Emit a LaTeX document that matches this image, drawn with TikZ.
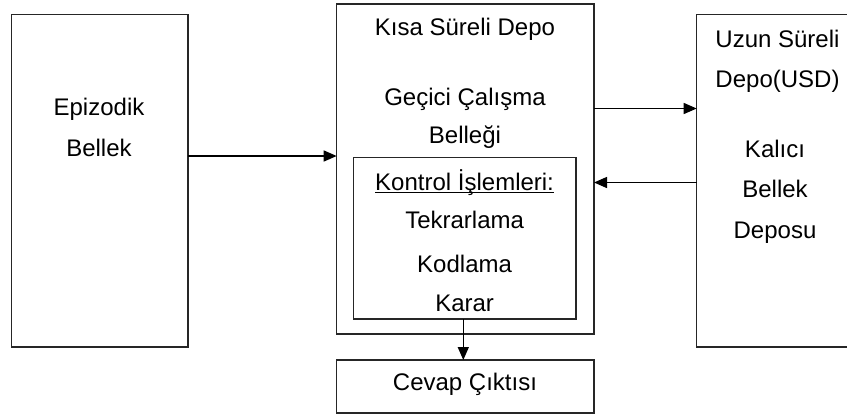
\documentclass[tikz,border=0pt]{standalone}
\usepackage{fontspec}
\setmainfont{Liberation Sans}
\usetikzlibrary{arrows.meta}
\begin{document}
\begin{tikzpicture}[x=1pt,y=-1pt,
  box/.style={draw=black!85,line width=1.5pt},
  lbl/.style={anchor=base,inner sep=0pt,font=\fontsize{24}{28}\selectfont},
  link/.style={draw=black,line width=1.4pt,-{Triangle[length=13pt,width=11pt]}}]
\useasboundingbox (0,0) rectangle (847,416);
\begin{scope}
\clip (0,0) rectangle (847,416);
% boxes
\draw[box] (11.5,14.5) rectangle (188,347);
\draw[box] (336.7,4) rectangle (594,334);
\draw[box] (353.3,157.5) rectangle (576,319);
\draw[box] (696.7,14.5) rectangle (860,347);
\draw[box] (336.7,360) rectangle (594,413);
\end{scope}
% anchors on the box edges
\coordinate (epiR) at (188,156);
\coordinate (ksdL) at (336.7,156);
\coordinate (ksdRa) at (594,108.5);
\coordinate (usdLa) at (696.7,108.5);
\coordinate (usdLb) at (696.7,182.5);
\coordinate (ksdRb) at (594,182.5);
\coordinate (ctlB) at (463.3,319);
\coordinate (outT) at (463.3,360);
% texts
\node[lbl] (e1) at (99,115) {Epizodik};
\node[lbl] (e2) at (99,156.5) {Bellek};
\node[lbl] (k1) at (465,35) {Kısa Süreli Depo};
\node[lbl] (k2) at (465,105) {Geçici Çalışma};
\node[lbl] (k3) at (465,143) {Belleği};
\node[lbl] (c1) at (464.6,190) {Kontrol İşlemleri:};
\draw[line width=1.1pt] ([yshift=-2.2pt]c1.base west) -- ([yshift=-2.2pt]c1.base east);
\node[lbl] (c2) at (464.6,228) {Tekrarlama};
\node[lbl] (c3) at (464.6,272) {Kodlama};
\node[lbl] (c4) at (464.6,311) {Karar};
\node[lbl] (o1) at (465,390) {Cevap Çıktısı};
\node[lbl] (u1) at (777.5,47) {Uzun Süreli};
\node[lbl] (u2) at (777.5,87) {Depo(USD)};
\node[lbl] (u3) at (775,157) {Kalıcı};
\node[lbl] (u4) at (775,197) {Bellek};
\node[lbl] (u5) at (775,238) {Deposu};
% connectors
\draw[link] (epiR) -- (ksdL);
\draw[link] (ksdRa) -- (usdLa);
\draw[link] (usdLb) -- (ksdRb);
\draw[link] (ctlB) -- (outT);
\end{tikzpicture}
\end{document}
